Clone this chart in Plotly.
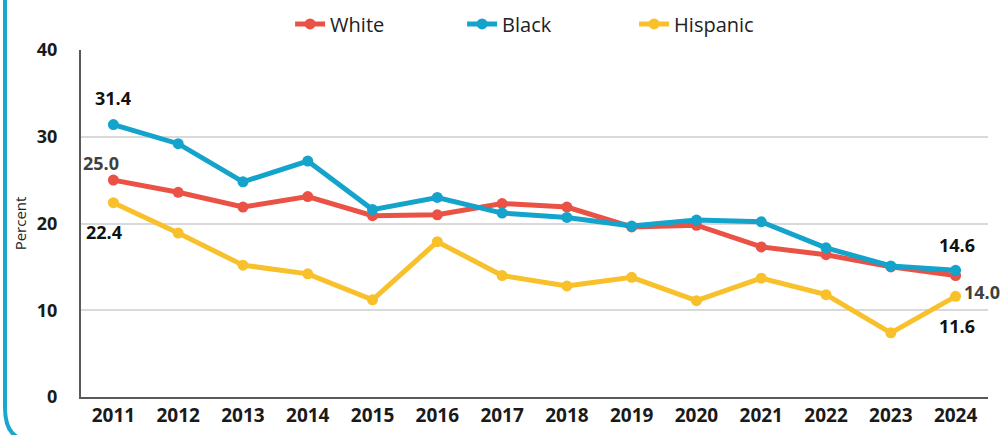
import plotly.graph_objects as go

years = [str(y) for y in range(2011, 2025)]

white = [25.0, 23.6, 21.9, 23.1, 20.9, 21.0, 22.3, 21.9, 19.6, 19.8, 17.3, 16.4, 15.0, 14.0]
black = [31.4, 29.2, 24.8, 27.2, 21.6, 23.0, 21.2, 20.7, 19.7, 20.4, 20.2, 17.2, 15.1, 14.6]
hispanic = [22.4, 18.9, 15.2, 14.2, 11.2, 17.9, 14.0, 12.8, 13.8, 11.1, 13.7, 11.8, 7.4, 11.6]

series = [
    ("White", white, "#EA5246"),
    ("Black", black, "#14A3CB"),
    ("Hispanic", hispanic, "#F8C12C"),
]

fig = go.Figure()

for name, vals, color in series:
    fig.add_trace(go.Scatter(
        x=years, y=vals, name=name,
        mode="lines+markers",
        line=dict(color=color, width=5),
        marker=dict(color=color, size=11),
    ))

# first / last value labels (x given as category index)
first, last = 0, len(years) - 1
labels = [
    (first, black[first], "#111111", 0, 27),
    (first, white[first], "#404040", -12, 17),
    (first, hispanic[first], "#111111", -9, -29),
    (last, black[last], "#111111", 1, 25),
    (last, white[last], "#404040", 26, -16),
    (last, hispanic[last], "#111111", 1, -30),
]
for i, y, col, dx, dy in labels:
    fig.add_annotation(x=i, y=y, text=f"<b>{y:.1f}</b>", showarrow=False,
                       xshift=dx, yshift=dy,
                       font=dict(family="Open Sans", size=18, color=col))

# teal frame edge on the left
fig.add_shape(
    type="path", xref="paper", yref="paper",
    path="M -0.0838,1.2 L -0.0838,-0.03 Q -0.0838,-0.125 -0.055,-0.125 L 0.2,-0.125",
    line=dict(color="#19A6CF", width=4),
)

fig.update_layout(
    width=1007, height=435,
    margin=dict(l=81, r=19, t=50, b=38, autoexpand=False),
    plot_bgcolor="white", paper_bgcolor="white",
    font=dict(family="Open Sans", color="#222222"),
    legend=dict(
        orientation="h", x=0.515, xanchor="center",
        yref="container", y=0.945, yanchor="middle",
        font=dict(family="Open Sans", size=20, color="#222222"),
        entrywidth=127, bgcolor="rgba(0,0,0,0)",
    ),
    showlegend=True,
)

fig.update_xaxes(
    type="category", range=[-0.5, 13.5], showgrid=False,
    showline=True, linecolor="#595959", linewidth=2,
    tickfont=dict(family="Open Sans", size=19, color="#1a1a1a", weight="bold"),
    ticks="", ticklabelstandoff=0, automargin=False,
)
fig.update_yaxes(
    range=[0, 40], dtick=10,
    showgrid=True, gridcolor="#D9D9D9", gridwidth=2,
    showline=True, linecolor="#595959", linewidth=2,
    zeroline=False, automargin=False,
    tickfont=dict(family="Open Sans", size=18, color="#1a1a1a", weight="bold"),
    ticks="", ticklabelstandoff=18,
    title=dict(text="Percent", font=dict(family="Open Sans", size=15, color="#222222"), standoff=7),
)

# drop the page's default body margin so the figure sits at the window corner
fig.write_html("out.html", config={"displayModeBar": False},
               post_script="document.body.style.margin='0';")
